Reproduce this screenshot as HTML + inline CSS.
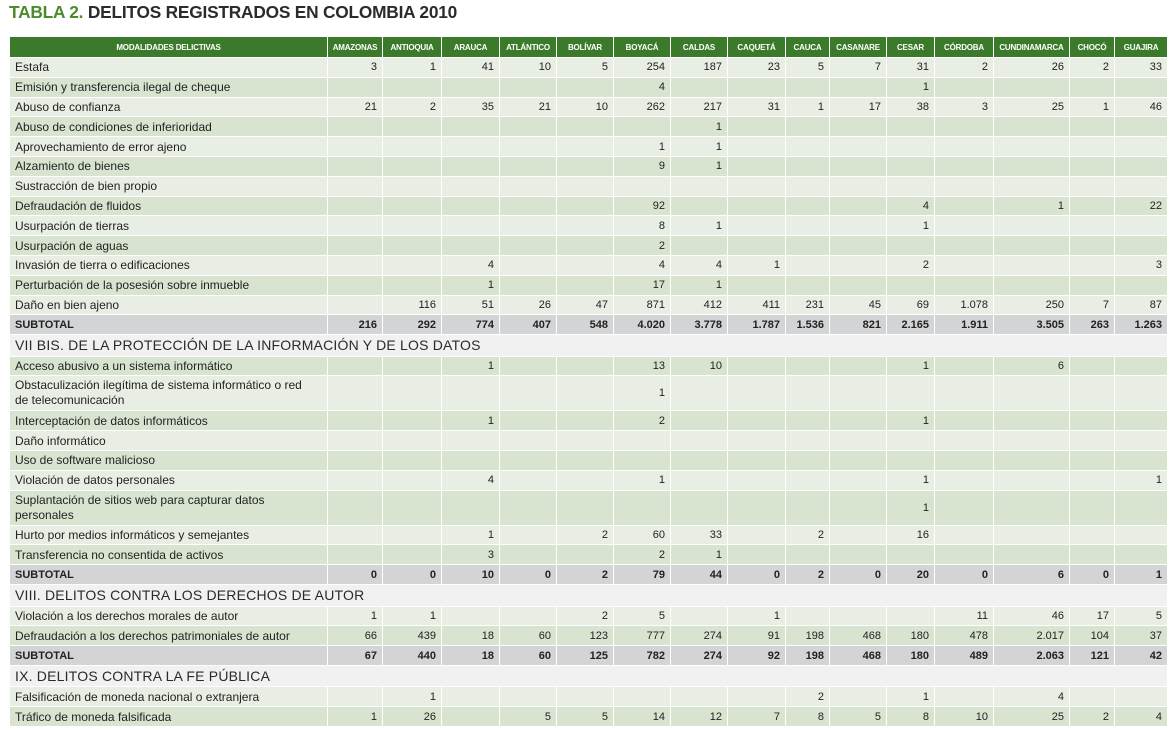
<!DOCTYPE html>
<html><head><meta charset="utf-8">
<style>
body{margin:0;width:1173px;height:732px;background:#fff;overflow:hidden;font-family:"Liberation Sans",sans-serif;}
#title{position:absolute;left:9px;top:2px;font-size:17.3px;font-weight:bold;color:#2b2b2b;letter-spacing:-0.2px;}
#title span{color:#4b8b2b;}
table{position:absolute;left:9px;top:36px;border-collapse:collapse;table-layout:fixed;width:1158px;}
td,th{border:1px solid #fff;padding:0 5px;font-size:12px;color:#222;overflow:hidden;white-space:nowrap;}
th{background:#3b7a2b;color:#fff;font-size:8px;font-weight:bold;height:20px;text-align:center;padding:0 1px;letter-spacing:-0.2px;}
td.n{text-align:right;font-size:11px;}
tr.l td{background:#e8eee3;}
tr.d td{background:#d8e4d0;}
tr.s td{background:#d3d4d6;font-weight:bold;font-size:11px;}
tr.h td{background:#f1f1f1;font-size:14px;letter-spacing:0.2px;color:#2a2a2a;}
td.w{line-height:15px;}
</style></head><body>
<div id="title"><span>TABLA 2.</span> DELITOS REGISTRADOS EN COLOMBIA 2010</div>
<table id="t">
<colgroup><col style="width:318px"><col style="width:55px"><col style="width:59px"><col style="width:58px"><col style="width:57px"><col style="width:57px"><col style="width:57px"><col style="width:57px"><col style="width:58px"><col style="width:44px"><col style="width:57px"><col style="width:48px"><col style="width:59px"><col style="width:76px"><col style="width:45px"><col style="width:53px"></colgroup>
<tbody id="tb"></tbody></table>
<script>
const cols=["AMAZONAS","ANTIOQUIA","ARAUCA","ATLÁNTICO","BOLÍVAR","BOYACÁ","CALDAS","CAQUETÁ","CAUCA","CASANARE","CESAR","CÓRDOBA","CUNDINAMARCA","CHOCÓ","GUAJIRA"];
const rows=[
["Estafa","3,1,41,10,5,254,187,23,5,7,31,2,26,2,33"],
["Emisión y transferencia ilegal de cheque",",,,,,4,,,,,1,,,,"],
["Abuso de confianza","21,2,35,21,10,262,217,31,1,17,38,3,25,1,46"],
["Abuso de condiciones de inferioridad",",,,,,,1,,,,,,,,"],
["Aprovechamiento de error ajeno",",,,,,1,1,,,,,,,,"],
["Alzamiento de bienes",",,,,,9,1,,,,,,,,"],
["Sustracción de bien propio",",,,,,,,,,,,,,,"],
["Defraudación de fluidos",",,,,,92,,,,,4,,1,,22"],
["Usurpación de tierras",",,,,,8,1,,,,1,,,,"],
["Usurpación de aguas",",,,,,2,,,,,,,,,"],
["Invasión de tierra o edificaciones",",,4,,,4,4,1,,,2,,,,3"],
["Perturbación de la posesión sobre inmueble",",,1,,,17,1,,,,,,,,"],
["Daño en bien ajeno",",116,51,26,47,871,412,411,231,45,69,1.078,250,7,87"],
["S","216,292,774,407,548,4.020,3.778,1.787,1.536,821,2.165,1.911,3.505,263,1.263"],
["H","VII BIS. DE LA PROTECCIÓN DE LA INFORMACIÓN Y DE LOS DATOS"],
["Acceso abusivo a un sistema informático",",,1,,,13,10,,,,1,,6,,"],
["Obstaculización ilegítima de sistema informático o red|de telecomunicación",",,,,,1,,,,,,,,,",2],
["Interceptación de datos informáticos",",,1,,,2,,,,,1,,,,"],
["Daño informático",",,,,,,,,,,,,,,"],
["Uso de software malicioso",",,,,,,,,,,,,,,"],
["Violación de datos personales",",,4,,,1,,,,,1,,,,1"],
["Suplantación de sitios web para capturar datos|personales",",,,,,,,,,,1,,,,",2],
["Hurto por medios informáticos y semejantes",",,1,,2,60,33,,2,,16,,,,"],
["Transferencia no consentida de activos",",,3,,,2,1,,,,,,,,"],
["S","0,0,10,0,2,79,44,0,2,0,20,0,6,0,1"],
["H","VIII. DELITOS CONTRA LOS DERECHOS DE AUTOR"],
["Violación a los derechos morales de autor","1,1,,,2,5,,1,,,,11,46,17,5"],
["Defraudación a los derechos patrimoniales de autor","66,439,18,60,123,777,274,91,198,468,180,478,2.017,104,37"],
["S","67,440,18,60,125,782,274,92,198,468,180,489,2.063,121,42"],
["H","IX. DELITOS CONTRA LA FE PÚBLICA"],
["Falsificación de moneda nacional o extranjera",",1,,,,,,,2,,1,,4,,"],
["Tráfico de moneda falsificada","1,26,,5,5,14,12,7,8,5,8,10,25,2,4"]
];
const tb=document.getElementById('tb');
const hr=document.createElement('tr');


const h0=document.createElement('th');h0.textContent='MODALIDADES DELICTIVAS';


hr.appendChild(h0);
cols.forEach(c=>{const th=document.createElement('th');th.textContent=c;


hr.appendChild(th);});
tb.appendChild(hr);
let k=0;
rows.forEach(r=>{
 const tr=document.createElement('tr');
 if(r[0]==='H'){
  tr.className='h';tr.style.height='21.5px';
  
  
  const td=document.createElement('td');td.colSpan=16;td.textContent=r[1];tr.appendChild(td);
 } else {
  const sub=r[0]==='S';
  tr.className=sub?'s':(k++%2===0?'l':'d');
  tr.style.height=(r[2]?35:19.8)+'px';
  
  
  const td=document.createElement('td');
  if(sub){td.textContent='SUBTOTAL';}
  else{const parts=r[0].split('|');td.textContent=parts[0];if(parts[1]){td.appendChild(document.createElement('br'));td.appendChild(document.createTextNode(parts[1]));}}
  if(r[2])td.className='w';
  tr.appendChild(td);
  r[1].split(',').forEach(v=>{const c=document.createElement('td');c.className='n';c.textContent=v;tr.appendChild(c);});
 }
 tb.appendChild(tr);
});
</script>
</body></html>
